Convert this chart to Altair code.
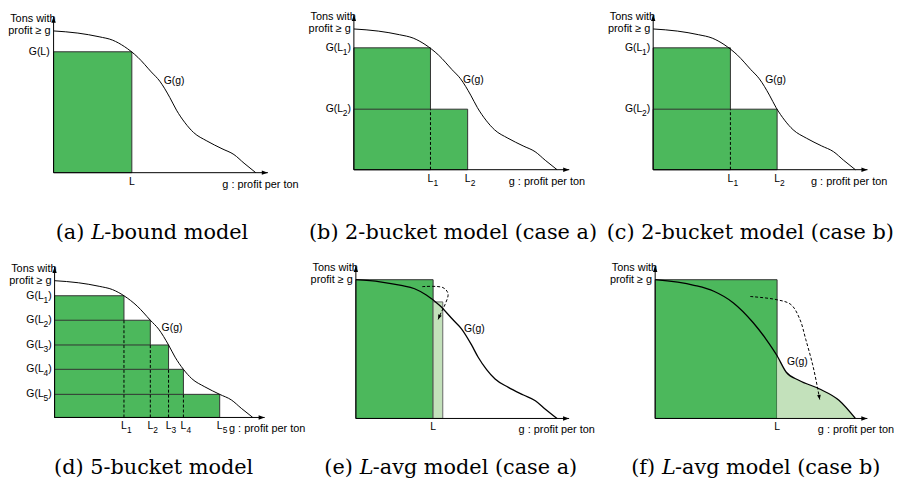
import altair as alt
import pandas as pd

# ---------------- values ----------------
# common curve G(g) used in panels a-e (g in units, G normalised to G(0)=1)
curve_g = [0.0, 1.2, 2.25, 2.92, 3.5, 4.17, 4.83, 5.25, 5.75, 6.08, 6.5, 6.92, 7.58, 8.33, 8.92, 9.42, 10.0]
curve_G = [1.0, 0.985, 0.959, 0.935, 0.89, 0.814, 0.711, 0.646, 0.53, 0.441, 0.352, 0.284, 0.224, 0.169, 0.128, 0.067, 0.0]
# curve of panel f
f_curve_g = [0.0, 1.94, 2.93, 3.91, 4.9, 5.56, 6.09, 6.55, 7.2, 8.19, 9.18, 10.0]
f_curve_G = [1.0, 0.96, 0.917, 0.833, 0.69, 0.567, 0.452, 0.333, 0.274, 0.214, 0.131, 0.0]

a_L = [3.87]
a_G = [0.853]
b_L = [3.77, 5.6]
b_G = [0.866, 0.43]
c_L = [3.82, 6.13]
c_G = [0.866, 0.43]
d_L = [3.5, 4.83, 5.75, 6.5, 8.33]
d_G = [0.89, 0.711, 0.53, 0.352, 0.169]
e_L = [3.84]
e_G = [1.0]
e_light_L = [4.32]
e_light_G = [0.84]
f_L = [6.09]
f_G = [1.0]

e_arrow_g = [3.30, 4.33, 4.58, 4.43, 4.24, 4.09]
e_arrow_G = [0.95, 0.943, 0.90, 0.82, 0.764, 0.714]
f_arrow_g = [4.75, 6.04, 6.78, 7.23, 7.52, 7.87, 8.12, 8.22]
f_arrow_G = [0.879, 0.857, 0.821, 0.714, 0.571, 0.386, 0.214, 0.136]

subs = ["1", "2", "3", "4", "5"]
y_title = ["Tons with", "profit \u2265 g"]
x_title = "g : profit per ton"
curve_label = "G(g)"
captions = [
    ("(a)", "L", "-bound model"),
    ("(b) 2-bucket model (case a)", "", ""),
    ("(c) 2-bucket model (case b)", "", ""),
    ("(d) 5-bucket model", "", ""),
    ("(e)", "L", "-avg model (case a)"),
    ("(f)", "L", "-avg model (case b)"),
]

# ---------------- styling / layout ----------------
FONT = "Liberation Sans"
CAPFONT = "DejaVu Serif"
GREEN = "#4cb85c"
LIGHT = "#c3e1bb"
XTIP = 10.6
YTIP = 1.1
UP = "M0,0L-0.36,1L0.36,1Z"
RIGHT = "M0,0L-1,-0.36L-1,0.36Z"
DOWN = "M0,0L-0.4,-1L0.4,-1Z"

COLW = [297, 301, 289]
ROWH = 238


def scales(cw, ox, oy, sx, sy):
    xs = alt.Scale(domain=[-ox / sx, (cw - ox) / sx], nice=False, zero=False)
    ys = alt.Scale(domain=[-(ROWH - oy) / sy, oy / sy], nice=False, zero=False)
    return xs, ys


def P(xs, ys, **extra):
    d = dict(x=alt.X("x:Q", scale=xs, axis=None), y=alt.Y("y:Q", scale=ys, axis=None))
    d.update(extra)
    return d


def axes(xs, ys, xt_dx):
    out = []
    out.append(alt.Chart(pd.DataFrame({"x": [0.0], "x2": [XTIP], "y": [0.0]}))
               .mark_rule(color="black", strokeWidth=1).encode(**P(xs, ys, x2="x2:Q")))
    out.append(alt.Chart(pd.DataFrame({"x": [0.0], "y": [0.0], "y2": [YTIP]}))
               .mark_rule(color="black", strokeWidth=1).encode(**P(xs, ys, y2="y2:Q")))
    out.append(alt.Chart(pd.DataFrame({"x": [0.0], "y": [YTIP]}))
               .mark_point(shape=UP, size=150, filled=True, color="black", opacity=1)
               .encode(**P(xs, ys)))
    out.append(alt.Chart(pd.DataFrame({"x": [XTIP], "y": [0.0]}))
               .mark_point(shape=RIGHT, size=150, filled=True, color="black", opacity=1)
               .encode(**P(xs, ys)))
    out.append(alt.Chart(pd.DataFrame({"x": [0.0], "y": [1.0]}))
               .mark_text(text=y_title[0], font=FONT, fontSize=11, align="right", baseline="middle", dx=2, dy=-12)
               .encode(**P(xs, ys)))
    out.append(alt.Chart(pd.DataFrame({"x": [0.0], "y": [1.0]}))
               .mark_text(text=y_title[1], font=FONT, fontSize=11, align="right", baseline="middle", dx=-3, dy=0)
               .encode(**P(xs, ys)))
    out.append(alt.Chart(pd.DataFrame({"x": [XTIP], "y": [0.0]}))
               .mark_text(text=x_title, font=FONT, fontSize=11, align="left", baseline="middle", dx=xt_dx, dy=12)
               .encode(**P(xs, ys)))
    return out


def rect_layer(xs, ys, L, G, fill, stroke="#333"):
    df = pd.DataFrame({"x": [0.0] * len(L), "x2": L, "y": [0.0] * len(L), "y2": G})
    out = []
    for i in range(len(L)):
        out.append(alt.Chart(df.iloc[[i]]).mark_rect(fill=fill, stroke=stroke, strokeWidth=1)
                   .encode(**P(xs, ys, x2="x2:Q", y2="y2:Q")))
    return out


def curve_layer(xs, ys, g, G, width=1.0):
    df = pd.DataFrame({"x": g, "y": G})
    return alt.Chart(df).mark_line(color="black", strokeWidth=width, interpolate="monotone").encode(**P(xs, ys))


def dashed(xs, ys, L, top):
    df = pd.DataFrame({"x": L, "y": [0.0] * len(L), "y2": top})
    return alt.Chart(df).mark_rule(color="black", strokeWidth=1, strokeDash=[3, 2]).encode(**P(xs, ys, y2="y2:Q"))


def text_at(xs, ys, x, y, txt, size=10.5, align="left", dx=0, dy=0, font=FONT, style="normal"):
    df = pd.DataFrame({"x": [x], "y": [y], "t": [txt]})
    return alt.Chart(df).mark_text(font=font, fontSize=size, align=align, baseline="middle",
                                   dx=dx, dy=dy, fontStyle=style).encode(**P(xs, ys, text="t:N"))


def ylabels_sub(xs, ys, G, names):
    df = pd.DataFrame({"x": [0.0] * len(G), "y": G, "s": names})
    return [
        alt.Chart(df).mark_text(text=")", font=FONT, fontSize=10.5, align="right", baseline="middle", dx=-3)
        .encode(**P(xs, ys)),
        alt.Chart(df).mark_text(font=FONT, fontSize=8.5, align="right", baseline="middle", dx=-6.5, dy=4)
        .encode(**P(xs, ys, text="s:N")),
        alt.Chart(df).mark_text(text="G(L", font=FONT, fontSize=10.5, align="right", baseline="middle", dx=-11)
        .encode(**P(xs, ys)),
    ]


def xlabels_sub(xs, ys, L, names):
    df = pd.DataFrame({"x": L, "y": [0.0] * len(L), "s": names})
    return [
        alt.Chart(df).mark_text(text="L", font=FONT, fontSize=10.5, align="center", baseline="middle", dy=9)
        .encode(**P(xs, ys)),
        alt.Chart(df).mark_text(font=FONT, fontSize=8.5, align="left", baseline="middle", dx=3, dy=13)
        .encode(**P(xs, ys, text="s:N")),
    ]


def caption(parts, cx, cy, split_x):
    pre, it, post = parts
    out = []
    if not it:
        out.append(alt.Chart(pd.DataFrame({"t": [pre]})).mark_text(font=CAPFONT, fontSize=21, align="center", baseline="middle")
                   .encode(text="t:N", x=alt.value(cx), y=alt.value(cy)))
    else:
        out.append(alt.Chart(pd.DataFrame({"t": [pre]})).mark_text(font=CAPFONT, fontSize=21, align="right", baseline="middle")
                   .encode(text="t:N", x=alt.value(split_x - 7), y=alt.value(cy)))
        out.append(alt.Chart(pd.DataFrame({"t": [it]})).mark_text(font=CAPFONT, fontSize=21, align="left", baseline="middle", fontStyle="italic")
                   .encode(text="t:N", x=alt.value(split_x), y=alt.value(cy)))
        out.append(alt.Chart(pd.DataFrame({"t": [post]})).mark_text(font=CAPFONT, fontSize=21, align="left", baseline="middle")
                   .encode(text="t:N", x=alt.value(split_x + 13), y=alt.value(cy)))
    return out


def arrow_path(xs, ys, g, G, angle):
    df = pd.DataFrame({"x": g, "y": G, "i": list(range(len(g)))})
    line = alt.Chart(df).mark_line(color="black", strokeWidth=1, strokeDash=[3, 2], interpolate="catmull-rom").encode(
        **P(xs, ys, order="i:Q"))
    head = alt.Chart(df.iloc[[-1]]).mark_point(shape=DOWN, size=90, filled=True, color="black", opacity=1, angle=angle).encode(
        **P(xs, ys))
    return [line, head]


# ---------------- panel a ----------------
xs, ys = scales(COLW[0], 46, 161, 20.4, 143)
la = []
la += rect_layer(xs, ys, a_L, a_G, GREEN)
la.append(curve_layer(xs, ys, curve_g, curve_G))
la += axes(xs, ys, -46)
la.append(text_at(xs, ys, 0.0, a_G[0], "G(L)", align="right", dx=-4))
la.append(text_at(xs, ys, a_L[0], 0.0, "L", align="center", dy=9))
la.append(text_at(xs, ys, 5.45, 0.645, curve_label))
la += caption(captions[0], 142, 222, 84)
pa = alt.layer(*la).properties(width=COLW[0], height=ROWH)

# ---------------- panel b ----------------
xs, ys = scales(COLW[1], 52, 158, 20.5, 142)
lb = []
lb += rect_layer(xs, ys, b_L, b_G, GREEN)
lb.append(dashed(xs, ys, b_L[:1], b_G[1:]))
lb.append(curve_layer(xs, ys, curve_g, curve_G))
lb += axes(xs, ys, -61)
lb += ylabels_sub(xs, ys, b_G, subs[:2])
lb += xlabels_sub(xs, ys, b_L, subs[:2])
lb.append(text_at(xs, ys, 5.37, 0.64, curve_label))
lb += caption(captions[1], 152, 222, 0)
pb = alt.layer(*lb).properties(width=COLW[1], height=ROWH)

# ---------------- panel c ----------------
xs, ys = scales(COLW[2], 53, 158, 20.4, 142)
lc = []
lc += rect_layer(xs, ys, c_L, c_G, GREEN)
lc.append(dashed(xs, ys, c_L[:1], c_G[1:]))
lc.append(curve_layer(xs, ys, curve_g, curve_G))
lc += axes(xs, ys, -57)
lc += ylabels_sub(xs, ys, c_G, subs[:2])
lc += xlabels_sub(xs, ys, c_L, subs[:2])
lc.append(text_at(xs, ys, 5.54, 0.64, curve_label))
lc += caption(captions[2], 151, 222, 0)
pc = alt.layer(*lc).properties(width=COLW[2], height=ROWH)

# ---------------- panel d ----------------
xs, ys = scales(COLW[0], 47, 170, 20.0, 138)
ld = []
ld += rect_layer(xs, ys, d_L, d_G, GREEN)
ld.append(dashed(xs, ys, d_L[:4], d_G[1:]))
ld.append(curve_layer(xs, ys, curve_g, curve_G))
ld += axes(xs, ys, -36)
ld += ylabels_sub(xs, ys, d_G, subs)
ld += xlabels_sub(xs, ys, d_L, subs)
ld.append(text_at(xs, ys, 5.4, 0.652, curve_label))
ld += caption(captions[3], 147, 221, 0)
pd_ = alt.layer(*ld).properties(width=COLW[0], height=ROWH)

# ---------------- panel e ----------------
xs, ys = scales(COLW[1], 54, 171, 20.3, 140)
le = []
le += rect_layer(xs, ys, e_L, e_G, GREEN)
le.append(alt.Chart(pd.DataFrame({"x": e_L, "x2": e_light_L, "y": [0.0], "y2": e_light_G}))
          .mark_rect(fill=LIGHT, stroke="#666", strokeWidth=1).encode(**P(xs, ys, x2="x2:Q", y2="y2:Q")))
le.append(curve_layer(xs, ys, curve_g, curve_G, 1.3))
le += arrow_path(xs, ys, e_arrow_g, e_arrow_G, 23)
le += axes(xs, ys, -51)
le.append(text_at(xs, ys, e_L[0], 0.0, "L", align="center", dy=9))
le.append(text_at(xs, ys, 5.37, 0.643, curve_label))
le += caption(captions[4], 145, 221, 58)
pe = alt.layer(*le).properties(width=COLW[1], height=ROWH)

# ---------------- panel f ----------------
xs, ys = scales(COLW[2], 55, 171, 20.2, 140)
lf = []
lf += rect_layer(xs, ys, f_L, f_G, GREEN)
area_df = pd.DataFrame({"x": [g for g in f_curve_g if g >= f_L[0]],
                        "y": [G for g, G in zip(f_curve_g, f_curve_G) if g >= f_L[0]]})
area_df["y2"] = 0.0
lf.append(alt.Chart(area_df).mark_area(color=LIGHT, opacity=1, interpolate="monotone")
          .encode(**P(xs, ys, y2="y2:Q")))
lf.append(curve_layer(xs, ys, f_curve_g, f_curve_G, 1.3))
lf += arrow_path(xs, ys, f_arrow_g, f_arrow_G, 350)
lf += axes(xs, ys, -50)
lf.append(text_at(xs, ys, f_L[0], 0.0, "L", align="center", dy=9))
lf.append(text_at(xs, ys, 6.58, 0.41, curve_label))
lf += caption(captions[5], 149, 221, 62)
pf = alt.layer(*lf).properties(width=COLW[2], height=ROWH)

chart = (alt.concat(pa, pb, pc, pd_, pe, pf, columns=3, spacing=0, bounds="flush")
         .properties(padding=0)
         .configure_view(stroke=None))

chart.save("out.html", embed_options={"renderer": "svg", "actions": False})
